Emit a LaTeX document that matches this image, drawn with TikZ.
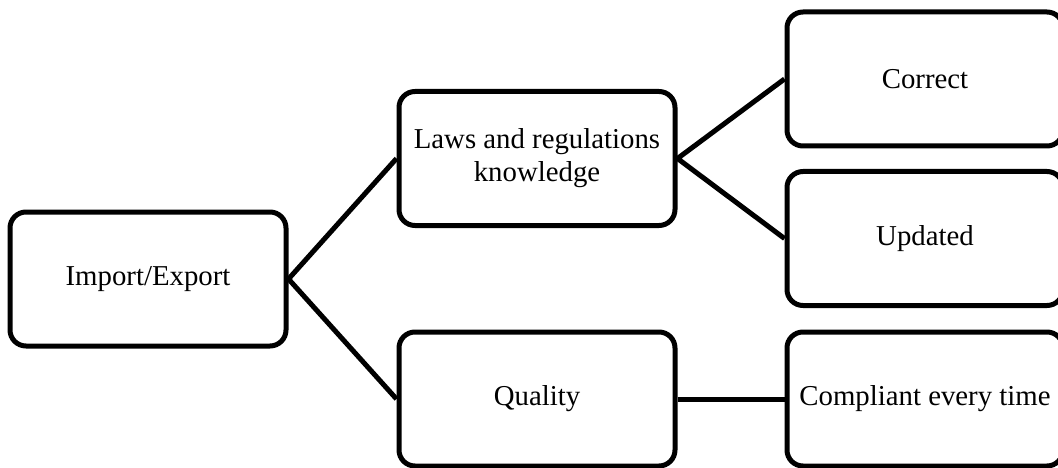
\documentclass[tikz,border=0pt]{standalone}
\usepackage{fontspec}
\setmainfont{Liberation Serif}
\begin{document}
\begin{tikzpicture}[x=1pt,y=-1pt,
  box/.style={draw=black, line width=5pt, rounded corners=16pt, fill=white,
    minimum width=276pt, minimum height=134pt, align=center, inner sep=4pt,
    font=\fontsize{28.8}{33}\selectfont},
  link/.style={draw=black, line width=5pt}]
  \useasboundingbox (0,0) rectangle (1058,468);
  \node[box] (ie) at (148,279) {Import/Export};
  \node[box] (laws) at (537,158.5) {Laws and regulations\\knowledge};
  \node[box] (qual) at (537,399) {Quality};
  \node[box] (corr) at (925,79) {Correct};
  \node[box] (upd) at (925,238.5) {Updated};
  \node[box] (comp) at (925,399) {Compliant every time};
  \draw[link] (laws.west) -- (ie.east) -- (qual.west);
  \draw[link] (corr.west) -- (laws.east) -- (upd.west);
  \draw[link] (qual.east) -- (comp.west);
\end{tikzpicture}
\end{document}
